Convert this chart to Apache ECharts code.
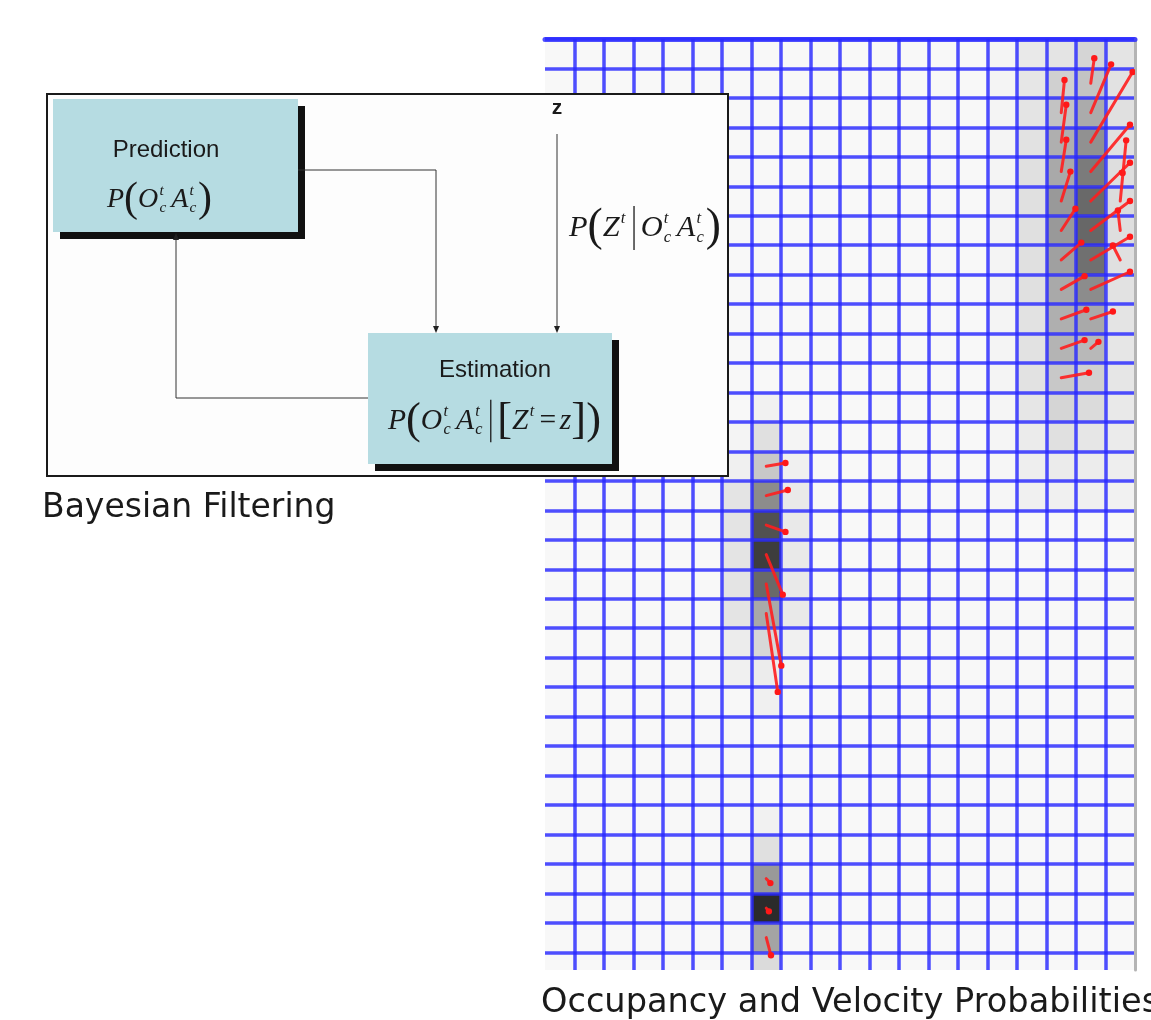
<!DOCTYPE html>
<html>
<head>
<meta charset="utf-8">
<title>Bayesian Filtering / Occupancy and Velocity Probabilities</title>
<script src="https://cdn.jsdelivr.net/npm/echarts@6/dist/echarts.min.js"></script>
<style>
  html, body { margin: 0; padding: 0; background: #fff; }
  #chart { width: 1151px; height: 1020px; }
</style>
</head>
<body>
<div id="chart"></div>
<script>
// occupancy probability per cell, one list per grid column (first row given by *Start)
var topStart = 0
var occCol14 = [0.02, 0.02, 0.02, 0.02, 0.02, 0.02, 0.02, 0.02, 0.02, 0.02, 0.02, 0.02, 0.015, 0.015, 0.01, 0.01]
var occCol15 = [0.07, 0.08, 0.09, 0.10, 0.11, 0.11, 0.11, 0.11, 0.11, 0.10, 0.10, 0.10, 0.08, 0.06, 0.045, 0.035]
var occCol16 = [0.09, 0.18, 0.24, 0.33, 0.36, 0.43, 0.43, 0.40, 0.36, 0.33, 0.31, 0.22, 0.16, 0.11, 0.06, 0.035]
var occCol17 = [0.16, 0.24, 0.35, 0.47, 0.57, 0.65, 0.66, 0.62, 0.49, 0.36, 0.29, 0.18, 0.13, 0.08, 0.055, 0.035]
var occCol18 = [0.09, 0.10, 0.11, 0.11, 0.12, 0.13, 0.12, 0.11, 0.10, 0.09, 0.08, 0.08, 0.07, 0.06, 0.045, 0.03]

var midStart = 12
var occCol5Mid = [0, 0.02, 0.035, 0.09, 0.09, 0.09, 0.09, 0.09, 0.055, 0.035, 0]
var occCol6Mid = [0.03, 0.11, 0.22, 0.49, 0.76, 0.85, 0.65, 0.36, 0.15, 0.055, 0.035]
var occCol7Mid = [0, 0.02, 0.035, 0.07, 0.07, 0.07, 0.07, 0.07, 0.035, 0.02, 0]

var lowStart = 26
var occCol6Low = [0.03, 0.11, 0.43, 0.93, 0.38, 0.13]

// velocity vectors: [column, row, vx, vy] in cells, vy > 0 points down
var velRight = [
  [16, 2, 0.11, -1.11], [16, 3, 0.17, -1.27], [16, 4, 0.17, -1.08], [16, 5, 0.31, -1.0],
  [16, 6, 0.48, -0.74], [16, 7, 0.68, -0.59], [16, 8, 0.79, -0.45], [16, 9, 0.85, -0.31],
  [16, 10, 0.79, -0.28], [16, 11, 0.94, -0.17],
  [17, 1, 0.12, -0.85], [17, 2, 0.69, -1.64], [17, 3, 1.42, -2.38], [17, 4, 1.33, -1.59],
  [17, 5, 1.33, -1.30], [17, 6, 1.33, -1.0], [17, 7, 1.33, -0.79], [17, 8, 1.33, -0.6],
  [17, 9, 0.75, -0.25], [17, 10, 0.26, -0.22],
  [18, 4, 0.08, 0.05], [18, 5, 0.2, -2.06], [18, 6, -0.08, -0.68], [18, 7, -0.25, -0.49]
]
var velMiddle = [
  [6, 14, 0.65, -0.11], [6, 15, 0.73, -0.19], [6, 16, 0.65, 0.23],
  [6, 17, 0.56, 1.36], [6, 18, 0.51, 2.77], [6, 19, 0.39, 2.66]
]
var velBottom = [[6, 28, 0.14, 0.15], [6, 29, 0.09, 0.11], [6, 30, 0.16, 0.6]]

function column(col, start, values) {
  return values.map(function(v, i) { return [col, start + i, v] })
}
var cells = [].concat(
  column(14, topStart, occCol14), column(15, topStart, occCol15), column(16, topStart, occCol16),
  column(17, topStart, occCol17), column(18, topStart, occCol18),
  column(5, midStart, occCol5Mid), column(6, midStart, occCol6Mid), column(7, midStart, occCol7Mid),
  column(6, lowStart, occCol6Low)
)
var vectors = velRight.concat(velMiddle, velBottom)

// ---- diagram helpers (formulas laid out with measured glyph widths) ----
var ctx = document.createElement('canvas').getContext('2d')
function measure(str, font) {
  ctx.font = font
  return ctx.measureText(str).width
}
function txt(str, x, y, font, align) {
  return {
    type: 'text', z: 110, x: x, y: y,
    style: {
      text: str, font: font, fill: '#1a1a1a',
      align: align || 'left', verticalAlign: 'middle',
      textAlign: align || 'left', textVerticalAlign: 'middle'
    }
  }
}
function layoutFormula(tokens, size, x0, cy, out) {
  var x = x0
  var serif = '"Liberation Serif", "Times New Roman", serif'
  var ital = 'italic ' + size + 'px ' + serif
  var upright = size + 'px ' + serif
  var small = 'italic ' + (size * 0.55) + 'px ' + serif
  var big = (size * 1.5) + 'px ' + serif
  tokens.forEach(function(tk) {
    if (tk.bar) {
      x += size * 0.22
      if (out) out.push({ type: 'line', z: 110, shape: { x1: x, y1: cy - size * 0.72, x2: x, y2: cy + size * 0.72 }, style: { stroke: '#1a1a1a', lineWidth: 1.3 } })
      x += size * 0.22
      return
    }
    if (tk.space) { x += size * tk.space; return }
    var font = tk.big ? big : (tk.upright ? upright : ital)
    if (tk.pad) x += size * tk.pad
    if (out) out.push(txt(tk.t, x, cy, font))
    x += measure(tk.t, font)
    if (tk.pad) x += size * tk.pad
    if (tk.sup || tk.sub) {
      var ws = 0
      if (tk.sup) {
        if (out) out.push(txt(tk.sup, x + size * 0.04, cy - size * 0.32, small))
        ws = Math.max(ws, measure(tk.sup, small))
      }
      if (tk.sub) {
        if (out) out.push(txt(tk.sub, x + size * 0.04, cy + size * 0.3, small))
        ws = Math.max(ws, measure(tk.sub, small))
      }
      x += ws + size * 0.1
    }
  })
  return x - x0
}
function formula(tokens, left, right, cy) {
  var w = layoutFormula(tokens, 26, 0, 0, null)
  var out = []
  layoutFormula(tokens, 26 * (right - left) / w, left, cy, out)
  return out
}
function arrowHead(x, y, dir) {
  var s = dir === 'down' ? -1 : 1
  return { type: 'polygon', z: 110, shape: { points: [[x, y], [x - 3, y + s * 7], [x + 3, y + s * 7]] }, style: { fill: '#222' } }
}

var fPrediction = [{ t: 'P' }, { t: '(', big: 1 }, { t: 'O', sup: 't', sub: 'c' }, { space: 0.12 }, { t: 'A', sup: 't', sub: 'c' }, { t: ')', big: 1 }]
var fSensor = [{ t: 'P' }, { t: '(', big: 1 }, { t: 'Z', sup: 't' }, { bar: 1 }, { t: 'O', sup: 't', sub: 'c' }, { space: 0.12 }, { t: 'A', sup: 't', sub: 'c' }, { t: ')', big: 1 }]
var fEstimation = [{ t: 'P' }, { t: '(', big: 1 }, { t: 'O', sup: 't', sub: 'c' }, { space: 0.12 }, { t: 'A', sup: 't', sub: 'c' }, { bar: 1 },
  { t: '[', big: 1 }, { t: 'Z', sup: 't' }, { t: '=', upright: 1, pad: 0.12 }, { t: 'z' }, { t: ']', big: 1 }, { t: ')', big: 1 }]

var sans = '"Liberation Sans", Arial, sans-serif'
var diagram = [
  { type: 'rect', z: 100, shape: { x: 47, y: 94, width: 681, height: 382 }, style: { fill: '#fdfdfd', stroke: '#1a1a1a', lineWidth: 2 } },
  { type: 'rect', z: 101, shape: { x: 60, y: 106, width: 245, height: 133 }, style: { fill: '#111' } },
  { type: 'rect', z: 102, shape: { x: 53, y: 99, width: 245, height: 133 }, style: { fill: '#b6dce2' } },
  { type: 'rect', z: 101, shape: { x: 375, y: 340, width: 244, height: 131 }, style: { fill: '#111' } },
  { type: 'rect', z: 102, shape: { x: 368, y: 333, width: 244, height: 131 }, style: { fill: '#b6dce2' } },
  { type: 'polyline', z: 110, shape: { points: [[298, 170], [436, 170], [436, 327]] }, style: { stroke: '#333', lineWidth: 1, fill: null } },
  arrowHead(436, 333, 'down'),
  { type: 'polyline', z: 110, shape: { points: [[557, 134], [557, 327]] }, style: { stroke: '#333', lineWidth: 1, fill: null } },
  arrowHead(557, 333, 'down'),
  { type: 'polyline', z: 110, shape: { points: [[368, 398], [176, 398], [176, 240]] }, style: { stroke: '#333', lineWidth: 1, fill: null } },
  arrowHead(176, 233, 'up'),
  txt('Prediction', 166, 150, '24px ' + sans, 'center'),
  txt('Estimation', 495, 370, '24px ' + sans, 'center'),
  txt('z', 557, 108, 'bold 21px ' + sans, 'center'),
  txt('Bayesian Filtering', 42, 508, '33px "DejaVu Sans", sans-serif'),
  txt('Occupancy and Velocity Probabilities', 541, 1003, '33.6px "DejaVu Sans", sans-serif')
].concat(
  formula(fPrediction, 107, 212, 200),
  formula(fSensor, 569, 721, 228),
  formula(fEstimation, 388, 601, 421)
)

var chart = echarts.init(document.getElementById('chart'), null, { renderer: 'canvas' })
var blue = 'rgba(40, 40, 255, 0.82)'
chart.setOption({
  animation: false,
  backgroundColor: '#ffffff',
  grid: {
    left: 545, top: 39, width: 590, height: 931,
    show: true, backgroundColor: '#f8f8f8', borderWidth: 0
  },
  xAxis: {
    type: 'value', min: -1, max: 19, interval: 1, position: 'top', z: 5,
    axisLine: { show: true, lineStyle: { color: blue, width: 5 } },
    axisTick: { show: false },
    axisLabel: { show: false },
    splitLine: { show: true, showMinLine: false, showMaxLine: false, lineStyle: { color: blue, width: 3.5 } }
  },
  yAxis: [{
    type: 'value', min: 0, max: 31.6, interval: 1, inverse: true, z: 5,
    axisLine: { show: false },
    axisTick: { show: false },
    axisLabel: { show: false },
    splitLine: { show: true, showMinLine: true, showMaxLine: false, lineStyle: { color: blue, width: 3.5 } }
  }, {
    type: 'value', min: 0, max: 1, position: 'right', z: 5,
    axisLine: { show: true, lineStyle: { color: '#b4b4b4', width: 3 } },
    axisTick: { show: false },
    axisLabel: { show: false },
    splitLine: { show: false }
  }],
  visualMap: {
    show: false, type: 'continuous', seriesIndex: 0, dimension: 2,
    min: 0, max: 1, inRange: { color: ['#f8f8f8', '#1c1c1c'] }
  },
  graphic: { elements: diagram },
  series: [{
    type: 'custom',
    name: 'occupancy',
    z: 1,
    clip: true,
    encode: { x: 0, y: 1 },
    data: cells,
    renderItem: function(params, api) {
      var c = api.value(0)
      var r = api.value(1)
      var p0 = api.coord([c, r])
      var p1 = api.coord([c + 1, r + 1])
      return {
        type: 'rect',
        shape: { x: p0[0], y: p0[1], width: p1[0] - p0[0], height: p1[1] - p0[1] },
        style: { fill: api.visual('color') }
      }
    }
  }, {
    type: 'custom',
    name: 'velocity',
    z: 10,
    clip: true,
    encode: { x: 0, y: 1 },
    data: vectors,
    renderItem: function(params, api) {
      var c = api.value(0) + 0.5
      var r = api.value(1) + 0.5
      var tail = api.coord([c, r])
      var head = api.coord([c + api.value(2), r + api.value(3)])
      return {
        type: 'group',
        children: [{
          type: 'line',
          shape: { x1: tail[0], y1: tail[1], x2: head[0], y2: head[1] },
          style: { stroke: 'rgba(255, 30, 30, 0.9)', lineWidth: 3, lineCap: 'round' }
        }, {
          type: 'circle',
          shape: { cx: head[0], cy: head[1], r: 3.2 },
          style: { fill: '#ff1818' }
        }]
      }
    }
  }]
})
</script>
</body>
</html>
